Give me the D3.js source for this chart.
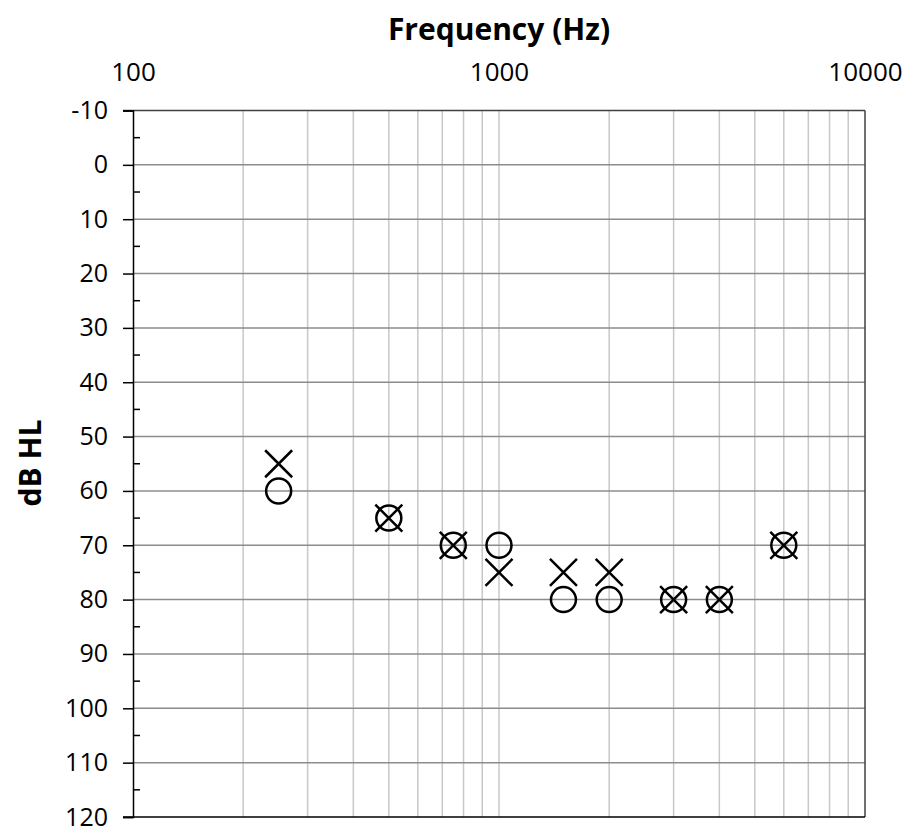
<!DOCTYPE html>
<html>
<head>
<meta charset="utf-8">
<script src="https://cdn.jsdelivr.net/npm/d3@7"></script>
<style>
  body { margin: 0; background: #fff; }
  text { font-family: "Open Sans", sans-serif; }
</style>
</head>
<body>
<svg width="912" height="826"></svg>
<script>
// audiogram thresholds
var freqs = [250, 500, 750, 1000, 1500, 2000, 3000, 4000, 6000];
var rightEar = [60, 65, 70, 70, 80, 80, 80, 80, 70];   // O
var leftEar = [55, 65, 70, 75, 75, 75, 80, 80, 70];    // X
var xTicks = [100, 1000, 10000];
var yTicks = [-10, 0, 10, 20, 30, 40, 50, 60, 70, 80, 90, 100, 110, 120];

var svg = d3.select('svg');
var plotL = 133, plotR = 865, plotT = 110.5, plotB = 817;

var x = d3.scaleLog().domain([100, 10000]).range([plotL, plotR]);
var y = d3.scaleLinear().domain([-10, 120]).range([plotT, plotB]);

// minor vertical grid
var minorX = [];
for (var d = 100; d < 10000; d *= 10) {
    for (var k = 2; k <= 9; k++) minorX.push(d * k);
}
minorX.push(1000);

svg.append('g').selectAll('line')
    .data(minorX)
    .enter()
    .append('line')
    .attr('x1', function(d){ return x(d); })
    .attr('x2', function(d){ return x(d); })
    .attr('y1', plotT)
    .attr('y2', plotB)
    .attr('stroke', '#c8c8c8')
    .attr('stroke-width', 1.5);

// horizontal grid
svg.append('g').selectAll('line')
    .data(yTicks.slice(1, -1))
    .enter()
    .append('line')
    .attr('x1', plotL)
    .attr('x2', plotR)
    .attr('y1', function(d){ return y(d); })
    .attr('y2', function(d){ return y(d); })
    .attr('stroke', '#8c8c8c')
    .attr('stroke-width', 1.5);

// border top / right / bottom
svg.append('line').attr('x1', plotL - 10).attr('x2', plotR).attr('y1', plotT).attr('y2', plotT)
    .attr('stroke', '#404040').attr('stroke-width', 1.5);
svg.append('line').attr('x1', plotR).attr('x2', plotR).attr('y1', plotT).attr('y2', plotB)
    .attr('stroke', '#404040').attr('stroke-width', 1.5);
svg.append('line').attr('x1', plotL - 10).attr('x2', plotR).attr('y1', plotB).attr('y2', plotB)
    .attr('stroke', '#000').attr('stroke-width', 1.5);

// left axis
var yAxis = d3.axisLeft(y).tickValues(yTicks).tickSize(10).tickPadding(15)
    .tickFormat(function(d){ return String(d); });
var gy = svg.append('g')
    .attr('transform', 'translate(' + plotL + ',0)')
    .call(yAxis);
gy.select('.domain').attr('stroke', '#000').attr('stroke-width', 1.5);
gy.selectAll('.tick line').attr('stroke', '#000').attr('stroke-width', 1.5);
gy.selectAll('.tick text')
    .attr('font-family', '"Open Sans", sans-serif')
    .attr('font-size', 25)
    .attr('fill', '#000');

// minor ticks inside
var minorY = yTicks.slice(0, -1).map(function(d){ return d + 5; });
svg.append('g').selectAll('line')
    .data(minorY)
    .enter()
    .append('line')
    .attr('x1', plotL)
    .attr('x2', plotL + 7)
    .attr('y1', function(d){ return y(d); })
    .attr('y2', function(d){ return y(d); })
    .attr('stroke', '#000')
    .attr('stroke-width', 1.5);

// top axis labels
var xAxis = d3.axisTop(x).tickValues(xTicks).tickSize(0).tickPadding(30)
    .tickFormat(function(d){ return String(d); });
var gx = svg.append('g')
    .attr('transform', 'translate(0,' + plotT + ')')
    .call(xAxis);
gx.select('.domain').remove();
gx.selectAll('.tick text')
    .attr('font-family', '"Open Sans", sans-serif')
    .attr('font-size', 26)
    .attr('fill', '#000');

// titles
svg.append('text')
    .attr('x', 499)
    .attr('y', 40)
    .attr('text-anchor', 'middle')
    .attr('font-size', 30)
    .attr('font-weight', 'bold')
    .text('Frequency (Hz)');

svg.append('text')
    .attr('transform', 'translate(41,463) rotate(-90)')
    .attr('text-anchor', 'middle')
    .attr('font-size', 30)
    .attr('font-weight', 'bold')
    .text('dB HL');

// markers
var rData = freqs.map(function(f, i){ return {f: f, v: rightEar[i]}; });
var lData = freqs.map(function(f, i){ return {f: f, v: leftEar[i]}; });

svg.append('g').selectAll('circle')
    .data(rData)
    .enter()
    .append('circle')
    .attr('cx', function(d){ return x(d.f); })
    .attr('cy', function(d){ return y(d.v); })
    .attr('r', 12.5)
    .attr('fill', 'none')
    .attr('stroke', '#000')
    .attr('stroke-width', 2.5);

var s = 13.5;
svg.append('g').selectAll('path')
    .data(lData)
    .enter()
    .append('path')
    .attr('d', function(d){
        var cx = x(d.f), cy = y(d.v);
        return 'M' + (cx - s) + ',' + (cy - s) + 'L' + (cx + s) + ',' + (cy + s) +
               'M' + (cx - s) + ',' + (cy + s) + 'L' + (cx + s) + ',' + (cy - s);
    })
    .attr('fill', 'none')
    .attr('stroke', '#000')
    .attr('stroke-width', 2.5);
</script>
</body>
</html>
